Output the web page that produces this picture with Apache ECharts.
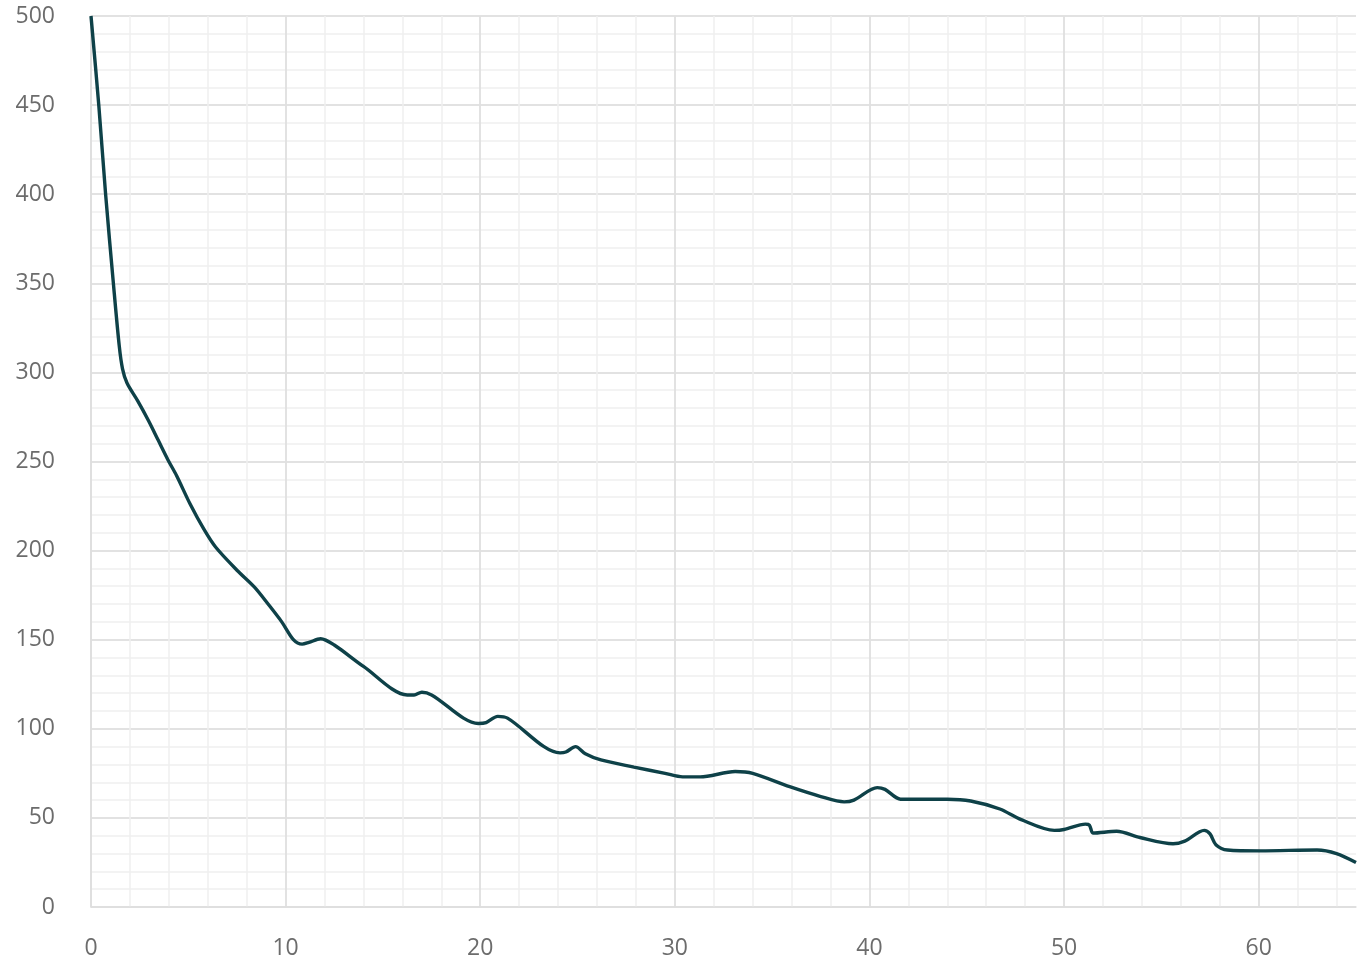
<!DOCTYPE html>
<html>
<head>
<meta charset="utf-8">
<script src="https://cdn.jsdelivr.net/npm/echarts@6/dist/echarts.min.js"></script>
<style>
html,body{margin:0;padding:0;background:#fff;}
#chart{width:1359px;height:966px;}
</style>
</head>
<body>
<div id="chart"></div>
<script>
const xValues = [0,0.4,0.75,1.15,1.45,1.62,1.85,2.4,2.95,3.45,3.95,4.4,5.1,5.8,6.4,7.5,8.4,9.1,9.8,10.4,10.85,11.2,11.8,12.5,14,16.25,16.6,17.0,17.5,19.9,20.3,20.9,21.4,24.1,24.4,24.9,25.4,26.2,27.9,29.5,30.4,31.3,33.1,34,35.9,37.5,38.7,39.2,40.4,40.8,41.6,44,45.2,46.7,47.8,49.5,50,51.1,51.3,51.5,52.7,53.9,55.6,56.2,57.2,57.5,57.8,58.4,60.1,63,64,65];
const yValues = [500,450,400,350,315,302,294,284,273,262,251,242,226,212,202,189,179.5,170,160,150,147.5,148.5,150.5,147,135,119,119,120.5,119,103,103.5,107,106,86.5,87,90,86,82.5,78.5,75,73,73,76,75,67.5,62,59,60,67,66,60.5,60.5,59.5,55,49,43,43.5,46.5,46,41.5,42.5,39,35.5,37,43,41,35,32,31.5,32,30,25];
const xTicks = [0,10,20,30,40,50,60];
const yTicks = [0,50,100,150,200,250,300,350,400,450,500];

const data = xValues.map((x,i)=>[x,yValues[i]]);
const labelStyle = {color:'#6c6c6c', fontSize:23, fontFamily:'Open Sans'};
const chart = echarts.init(document.getElementById('chart'));
chart.setOption({
  animation:false,
  grid:{left:91,right:3,top:16,bottom:59,containLabel:false,outerBoundsMode:'none'},
  xAxis:[
    {type:'value',position:'bottom',min:0,max:65,interval:2,axisLine:{show:false},axisTick:{show:false},axisLabel:{show:false},
     splitLine:{show:true,showMaxLine:false,lineStyle:{color:'#efefef',width:1.5}}},
    {type:'value',position:'bottom',offset:0,min:0,max:65,interval:10,axisLine:{show:true,lineStyle:{color:'#dedede',width:1.5}},axisTick:{show:false},
     axisLabel:Object.assign({margin:30,showMaxLabel:false,formatter:v=>xTicks.includes(v)?String(v):''},labelStyle),
     splitLine:{show:true,showMaxLine:false,lineStyle:{color:'#dcdcdc',width:1.5}}}
  ],
  yAxis:[
    {type:'value',position:'left',min:0,max:500,interval:10,axisLine:{show:false},axisTick:{show:false},axisLabel:{show:false},
     splitLine:{show:true,lineStyle:{color:'#efefef',width:1.5}}},
    {type:'value',position:'left',offset:0,min:0,max:500,interval:50,axisLine:{show:true,lineStyle:{color:'#dedede',width:1.5}},axisTick:{show:false},
     axisLabel:Object.assign({margin:36,formatter:v=>yTicks.includes(v)?String(v):''},labelStyle),
     splitLine:{show:true,lineStyle:{color:'#dcdcdc',width:1.5}}}
  ],
  series:[{
    type:'line',xAxisIndex:1,yAxisIndex:1,data:data,smooth:0.3,
    symbol:'none',lineStyle:{color:'#0e4148',width:3.4},clip:false
  }]
});
</script>
</body>
</html>
